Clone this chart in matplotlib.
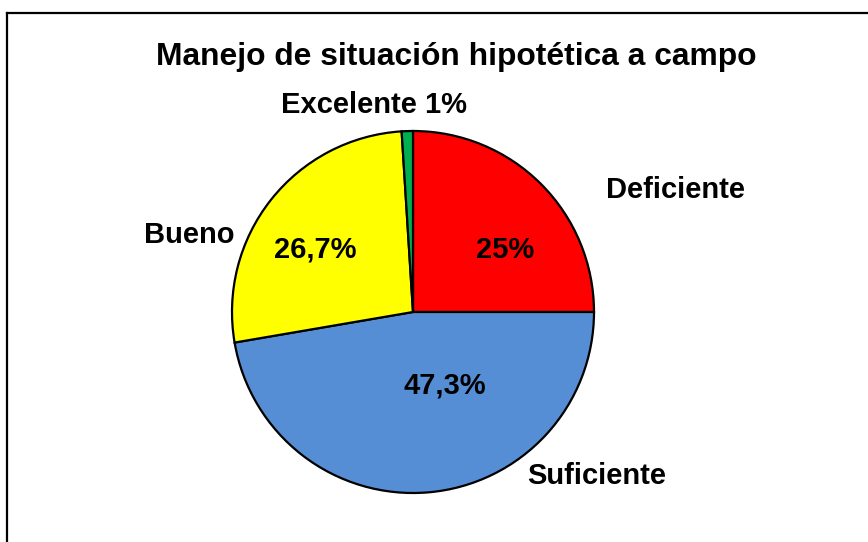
import matplotlib
matplotlib.use("Agg")
import matplotlib.pyplot as plt

# données
categories = ["Deficiente", "Suficiente", "Bueno", "Excelente"]
valores = [25, 47.3, 26.7, 1]
etiquetas_pct = ["25%", "47,3%", "26,7%", ""]
colores = ["#FF0000", "#558ED5", "#FFFF00", "#00B050"]
titulo = "Manejo de situación hipotética a campo"

W, H = 868, 542
plt.rcParams['font.family'] = ['Liberation Sans', 'DejaVu Sans']

fig = plt.figure(figsize=(W / 100, H / 100), dpi=100)
ax = fig.add_axes([0, 0, 1, 1])

cx, cy, r = 413, H - 312, 181
ax.pie(valores, colors=colores, startangle=90, counterclock=False,
       center=(cx, cy), radius=r, frame=True,
       wedgeprops=dict(edgecolor='black', linewidth=1.6))
ax.set_xlim(0, W)
ax.set_ylim(0, H)
ax.set_aspect('equal')
ax.axis('off')

def txt(x, y, s, size=21):
    ax.text(x, H - y, s, ha='center', va='baseline', fontsize=size,
            fontweight='bold', color='black')

# titre
txt(456, 65, titulo, size=22.9)
# étiquettes extérieures
txt(675, 198, categories[0])
txt(597, 484, categories[1])
txt(189, 243, categories[2])
txt(374, 113, categories[3] + " 1%")
# pourcentages
txt(505, 258, etiquetas_pct[0])
txt(445, 393, etiquetas_pct[1])
txt(315, 258, etiquetas_pct[2])

# cadre
fig.add_artist(plt.Line2D([6.5 / W, 6.5 / W], [0, 1 - 12.5 / H],
                          transform=fig.transFigure, color='black', lw=1.6))
fig.add_artist(plt.Line2D([6.5 / W, 1], [1 - 12.5 / H, 1 - 12.5 / H],
                          transform=fig.transFigure, color='black', lw=1.6))

fig.savefig("out.png", dpi=100)
